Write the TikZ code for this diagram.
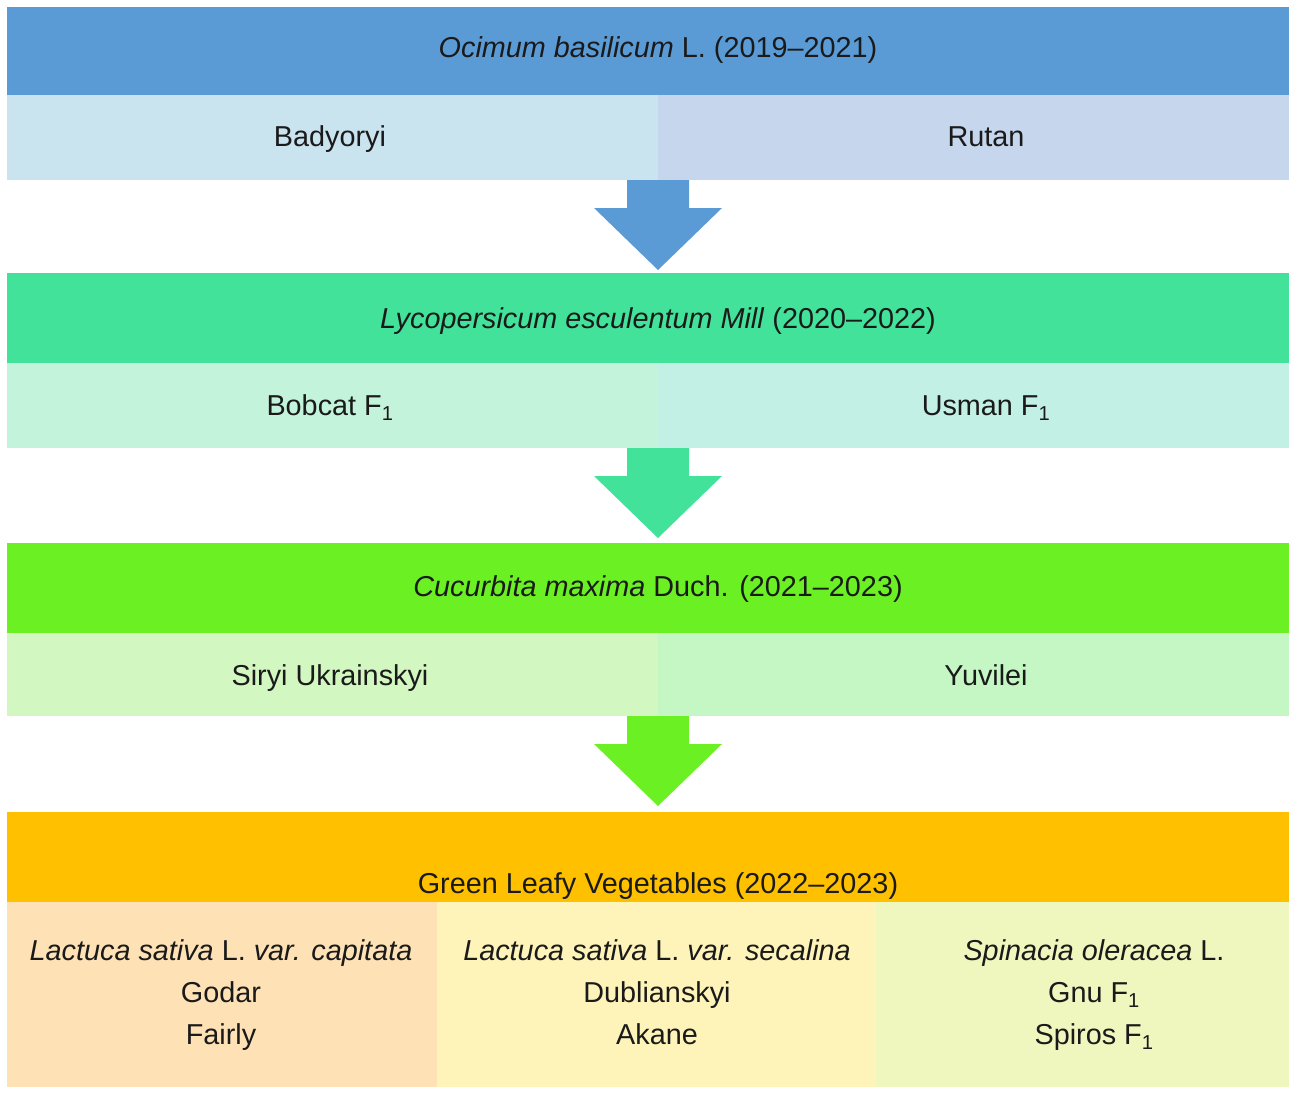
\documentclass[tikz,border=0pt]{standalone}
\usepackage{fontspec}
\setmainfont{Liberation Sans}
\usetikzlibrary{calc}
\definecolor{bandA}{HTML}{5B9BD5}
\definecolor{subAl}{HTML}{C9E3EF}
\definecolor{subAr}{HTML}{C6D6EC}
\definecolor{bandB}{HTML}{42E29A}
\definecolor{subBl}{HTML}{C3F3DB}
\definecolor{subBr}{HTML}{C3F0E5}
\definecolor{bandC}{HTML}{6BF024}
\definecolor{subCl}{HTML}{D3F7C0}
\definecolor{subCr}{HTML}{C4F7C4}
\definecolor{bandD}{HTML}{FFC000}
\definecolor{cellL}{HTML}{FEE2B6}
\definecolor{cellM}{HTML}{FEF3B9}
\definecolor{cellR}{HTML}{EFF6BE}
\definecolor{txt}{HTML}{1A1A1A}
\begin{document}
\begin{tikzpicture}[x=1pt,y=-1pt,
  font=\fontsize{28.8}{42}\selectfont, text=txt,
  cell/.style={rectangle, inner sep=0pt, outer sep=0pt, draw=none, align=center},
  lbl/.style={inner sep=0pt, text height=20.6pt, text depth=0pt},
  blockarrow/.style={fill=#1, draw=none}]
\useasboundingbox (0,0) rectangle (1289,1093);
% band 1
\node[cell, fill=bandA, minimum width=1282, minimum height=88] (b1) at (648,51) {};
\node[lbl] (t1) at (658,47) {\textit{Ocimum basilicum} L. (2019–2021)};
\node[cell, fill=subAl, minimum width=651, minimum height=85] (s1l) at (332.5,137.5) {};
\node[cell, fill=subAr, minimum width=631, minimum height=85] (s1r) at (973.5,137.5) {};
\node[lbl] (t1l) at (330,136) {Badyoryi};
\node[lbl] (t1r) at (986,136) {Rutan};
% band 2
\node[cell, fill=bandB, minimum width=1282, minimum height=90] (b2) at (648,318) {};
\node[lbl] (t2) at (658,318) {\textit{Lycopersicum esculentum Mill} (2020–2022)};
\node[cell, fill=subBl, minimum width=651, minimum height=85] (s2l) at (332.5,405.5) {};
\node[cell, fill=subBr, minimum width=631, minimum height=85] (s2r) at (973.5,405.5) {};
\node[lbl] (t2l) at (330,405) {Bobcat F\textsubscript{1}};
\node[lbl] (t2r) at (986,405) {Usman F\textsubscript{1}};
% band 3
\node[cell, fill=bandC, minimum width=1282, minimum height=90] (b3) at (648,588) {};
\node[lbl] (t3) at (658,586) {\textit{Cucurbita maxima} Duch. (2021–2023)};
\node[cell, fill=subCl, minimum width=651, minimum height=83] (s3l) at (332.5,674.5) {};
\node[cell, fill=subCr, minimum width=631, minimum height=83] (s3r) at (973.5,674.5) {};
\node[lbl] (t3l) at (330,675) {Siryi Ukrainskyi};
\node[lbl] (t3r) at (986,675) {Yuvilei};
% band 4
\node[cell, fill=bandD, minimum width=1282, minimum height=90] (b4) at (648,857) {};
\node[lbl] (t4) at (658,883) {Green Leafy Vegetables (2022–2023)};
\node[cell, fill=cellL, minimum width=430, minimum height=185] (c1) at (222,994.5) {};
\node[cell, fill=cellM, minimum width=439, minimum height=185] (c2) at (656.5,994.5) {};
\node[cell, fill=cellR, minimum width=413, minimum height=185] (c3) at (1082.5,994.5) {};
\node[lbl] (tc1a) at (221,950) {\textit{Lactuca sativa} L. \textit{var. capitata}};
\node[lbl] (tc1b) at (221,992) {Godar};
\node[lbl] (tc1c) at (221,1034) {Fairly};
\node[lbl] (tc2a) at (657,950) {\textit{Lactuca sativa} L. \textit{var. secalina}};
\node[lbl] (tc2b) at (657,992) {Dublianskyi};
\node[lbl] (tc2c) at (657,1034) {Akane};
\node[lbl] (tc3a) at (1094,950) {\textit{Spinacia oleracea} L.};
\node[lbl] (tc3b) at (1094,992) {Gnu F\textsubscript{1}};
\node[lbl] (tc3c) at (1094,1034) {Spiros F\textsubscript{1}};
% block arrows
\foreach \s/\c in {s1l/bandA, s2l/bandB, s3l/bandC}{
  \fill[blockarrow=\c] ($(\s.south east)+(-31,0)$) -- ++(62,0) -- ++(0,28) -- ++(33,0)
    -- ++(-64,62) -- ++(-64,-62) -- ++(33,0) -- cycle;
}
\end{tikzpicture}
\end{document}
